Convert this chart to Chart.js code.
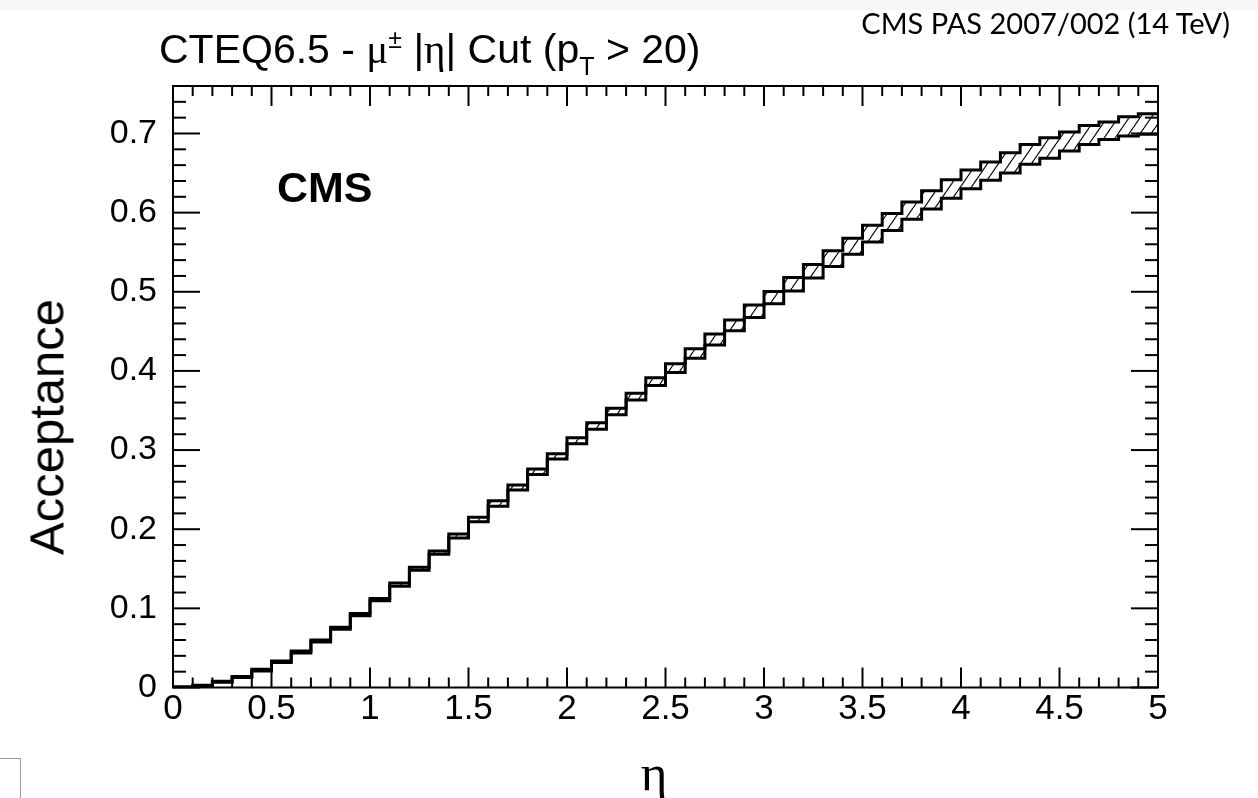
<!DOCTYPE html>
<html>
<head>
<meta charset="utf-8">
<script src="https://cdn.jsdelivr.net/npm/chart.js@4/dist/chart.umd.min.js"></script>
<style>
  html, body { margin: 0; padding: 0; background: #fff; }
  #wrap { position: relative; width: 1258px; height: 798px; overflow: hidden; }
  #topbar { position: absolute; left: 0; top: 0; width: 1258px; height: 10px; background: #f6f6f6; }
  #corner { position: absolute; left: -1px; top: 758px; width: 20px; height: 45px; border: 1px solid #999; background: #fff; }
  canvas { position: absolute; left: 0; top: 0; }
  .txt { position: absolute; white-space: nowrap; line-height: 1; color: #000; font-family: "Liberation Sans", Arial, sans-serif; }
  .sym { font-family: "Liberation Serif", "DejaVu Serif", serif; }
</style>
</head>
<body>
<div id="wrap">
  <div id="topbar"></div>
  <canvas id="acc" width="1258" height="798"></canvas>
  <div class="txt" style="left:159px; top:27px; font-size:41px;">CTEQ6.5 - <span class="sym">μ</span><sup style="font-size:25px; vertical-align:15px;">±</sup> |<span class="sym">η</span>| Cut (p<sub style="font-size:25px; vertical-align:-12px;">T</sub> &gt; 20)</div>
  <div class="txt" style="left:277px; top:166px; font-size:43px; font-weight:bold;">CMS</div>
  <div class="txt" style="right:28px; top:8px; font-size:29px; font-family:Lato, sans-serif;">CMS PAS 2007/002 (14 TeV)</div>
  <div class="txt" style="left:47px; top:427px; font-size:49px; transform:translate(-50%,-50%) rotate(-90deg);">Acceptance</div>
  <div class="txt sym" style="left:654px; top:773px; font-size:51px; transform:translate(-50%,-50%);">η</div>
  <div id="corner"></div>
</div>
<script>
// eta bin edges (0.1 wide)
const etaEdges = [0, 0.1, 0.2, 0.3, 0.4, 0.5, 0.6, 0.7, 0.8, 0.9,
  1, 1.1, 1.2, 1.3, 1.4, 1.5, 1.6, 1.7, 1.8, 1.9,
  2, 2.1, 2.2, 2.3, 2.4, 2.5, 2.6, 2.7, 2.8, 2.9,
  3, 3.1, 3.2, 3.3, 3.4, 3.5, 3.6, 3.7, 3.8, 3.9,
  4, 4.1, 4.2, 4.3, 4.4, 4.5, 4.6, 4.7, 4.8, 4.9, 5];

// acceptance band per bin, upper and lower edge
const accUpper = [0.001, 0.003, 0.008, 0.014, 0.023, 0.0335, 0.046, 0.060, 0.076, 0.0935,
  0.1125, 0.132, 0.152, 0.1725, 0.194, 0.215, 0.236, 0.256, 0.276, 0.2953,
  0.3155, 0.3344, 0.3529, 0.3718, 0.3913, 0.409, 0.428, 0.4466, 0.4643, 0.4832,
  0.5004, 0.518, 0.5344, 0.5517, 0.5677, 0.584, 0.5988, 0.6135, 0.6278, 0.6416,
  0.6538, 0.664, 0.6757, 0.686, 0.6946, 0.702, 0.710, 0.7146, 0.721, 0.7249];
const accLower = [0.000, 0.0015, 0.0065, 0.0125, 0.021, 0.0315, 0.0435, 0.0575, 0.0735, 0.0905,
  0.1095, 0.128, 0.148, 0.1685, 0.189, 0.2095, 0.229, 0.2495, 0.269, 0.2886,
  0.308, 0.3264, 0.3445, 0.3634, 0.3815, 0.398, 0.416, 0.4328, 0.4508, 0.4676,
  0.4849, 0.501, 0.5175, 0.532, 0.5475, 0.563, 0.5773, 0.5917, 0.6047, 0.6181,
  0.6303, 0.641, 0.650, 0.661, 0.6686, 0.6778, 0.686, 0.6925, 0.6967, 0.699];

const xTicks = [0, 0.5, 1, 1.5, 2, 2.5, 3, 3.5, 4, 4.5, 5];
const yTicks = [0, 0.1, 0.2, 0.3, 0.4, 0.5, 0.6, 0.7];
const yMax = 0.76;

// histogram steps: one point per low edge, last value repeated at the end
function steps(vals) {
  return etaEdges.map((e, i) => ({ x: e, y: vals[Math.min(i, vals.length - 1)] }));
}

// "/" hatch like root's 3004 style
function hatch() {
  const c = document.createElement("canvas");
  c.width = 11; c.height = 16;
  const g = c.getContext("2d");
  g.strokeStyle = "#000";
  g.lineWidth = 1.2;
  for (const dx of [-11, 0, 11]) {
    g.beginPath();
    g.moveTo(dx, 16);
    g.lineTo(dx + 11, 0);
    g.stroke();
  }
  return g.createPattern(c, "repeat");
}

// frame + inward ticks on all four sides
const frame = {
  id: "frame",
  afterDatasetsDraw(chart) {
    const { ctx, chartArea: a, scales: { x, y } } = chart;
    ctx.save();
    ctx.strokeStyle = "#000";
    ctx.lineWidth = 2;
    ctx.strokeRect(a.left, a.top, a.right - a.left, a.bottom - a.top);
    const seg = (x1, y1, x2, y2) => { ctx.beginPath(); ctx.moveTo(x1, y1); ctx.lineTo(x2, y2); ctx.stroke(); };
    for (let i = 0; i <= 50; i++) {
      const px = x.getPixelForValue(i / 10);
      const len = i % 5 === 0 ? 20 : 10;
      seg(px, a.bottom, px, a.bottom - len);
      seg(px, a.top, px, a.top + len);
    }
    for (let i = 0; i * 0.02 <= yMax + 1e-9; i++) {
      const py = y.getPixelForValue(i * 0.02);
      const len = i % 5 === 0 ? 27 : 13;
      seg(a.left, py, a.left + len, py);
      seg(a.right, py, a.right - len, py);
    }
    ctx.restore();
  }
};

const tickFont = { family: "'Liberation Sans', Arial, sans-serif", size: 34 };

new Chart(document.getElementById("acc"), {
  type: "line",
  data: {
    datasets: [
      {
        data: steps(accUpper),
        stepped: "before",
        borderColor: "#000",
        borderWidth: 3,
        pointRadius: 0,
        fill: "+1",
        backgroundColor: hatch(),
      },
      {
        data: steps(accLower),
        stepped: "before",
        borderColor: "#000",
        borderWidth: 3,
        pointRadius: 0,
        fill: false,
      }
    ]
  },
  options: {
    responsive: false,
    animation: false,
    layout: { padding: { left: 0, top: 86, right: 100, bottom: 0 } },
    plugins: { legend: { display: false }, tooltip: { enabled: false } },
    scales: {
      x: {
        type: "linear",
        min: 0,
        max: 5,
        afterFit: s => { s.height = 110.5; },
        afterBuildTicks: s => { s.ticks = xTicks.map(v => ({ value: v })); },
        grid: { display: false },
        border: { display: false },
        ticks: { font: { ...tickFont, size: 35 }, color: "#000", padding: -7, maxRotation: 0, callback: v => String(v) },
      },
      y: {
        type: "linear",
        min: 0,
        max: yMax,
        afterFit: s => { s.width = 173; },
        afterBuildTicks: s => { s.ticks = yTicks.map(v => ({ value: v })); },
        grid: { display: false },
        border: { display: false },
        ticks: { font: tickFont, color: "#000", padding: 8, callback: v => String(v) },
      }
    }
  },
  plugins: [frame]
});
</script>
</body>
</html>
